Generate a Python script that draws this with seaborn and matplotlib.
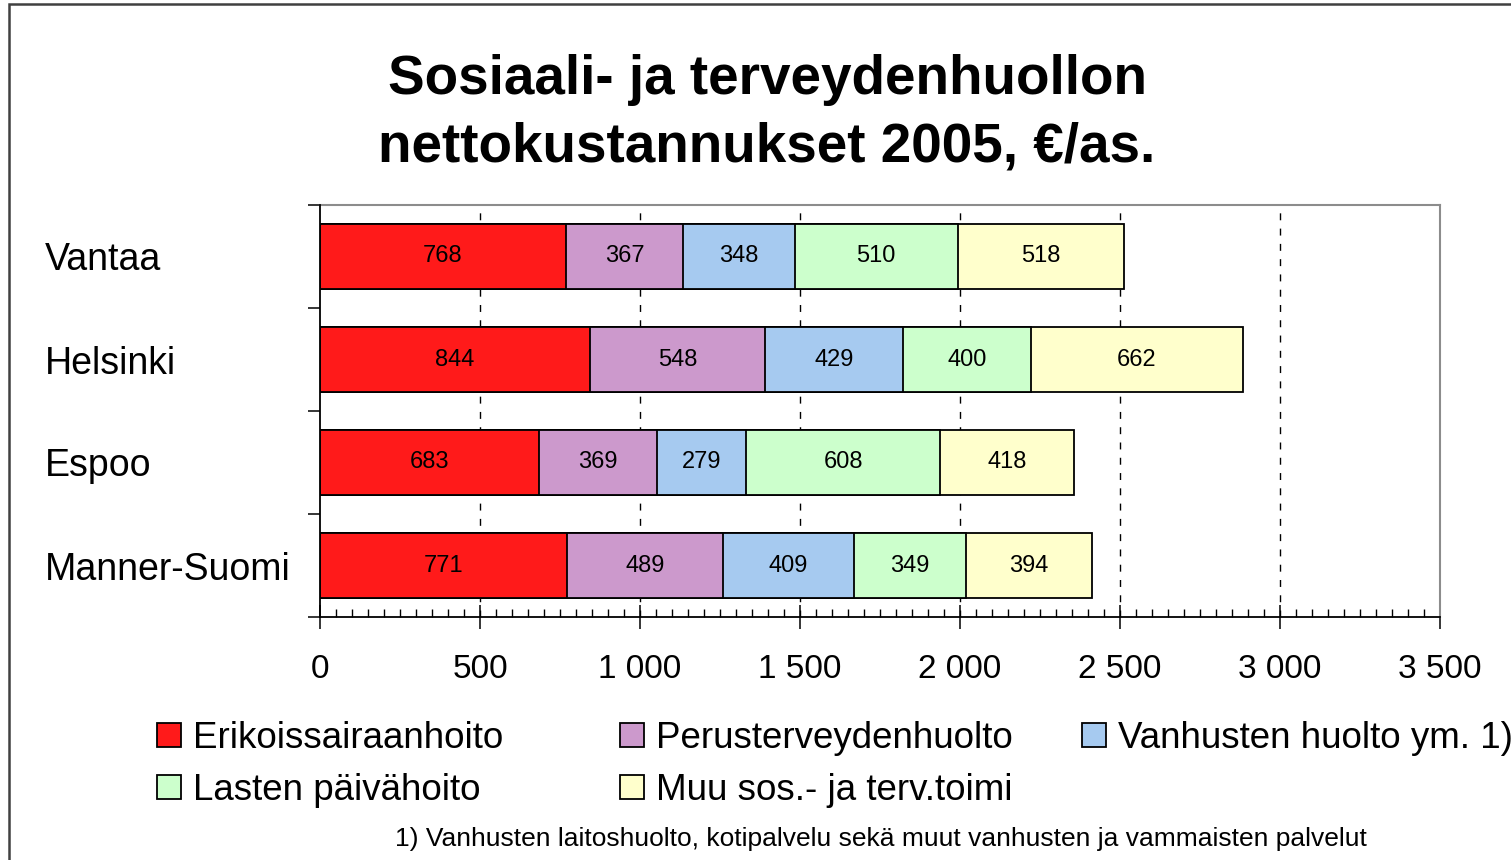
import numpy as np
import pandas as pd
import matplotlib
matplotlib.use("Agg")
import matplotlib.pyplot as plt
import seaborn as sns
from matplotlib.patches import Patch, Rectangle
from matplotlib.ticker import FixedLocator, MultipleLocator, FuncFormatter

# ---- data ----
regions = ["Vantaa", "Helsinki", "Espoo", "Manner-Suomi"]
series = ["Erikoissairaanhoito", "Perusterveydenhuolto", "Vanhusten huolto ym. 1)",
          "Lasten päivähoito", "Muu sos.- ja terv.toimi"]
erikoissairaanhoito = [768, 844, 683, 771]
perusterveydenhuolto = [367, 548, 369, 489]
vanhusten_huolto = [348, 429, 279, 409]
lasten_paivahoito = [510, 400, 608, 349]
muu_sos = [518, 662, 418, 394]
x_ticks = [0, 500, 1000, 1500, 2000, 2500, 3000, 3500]
colors = ["#FF1A1A", "#CC99CC", "#A6CAF0", "#CCFFCC", "#FFFFCC"]
title = "Sosiaali- ja terveydenhuollon\nnettokustannukset 2005, €/as."
footnote = "1) Vanhusten laitoshuolto, kotipalvelu sekä muut vanhusten ja vammaisten palvelut"

sns.set_theme(style="white")
plt.rcParams["font.family"] = ["Liberation Sans", "DejaVu Sans"]
plt.rcParams["text.color"] = "black"
plt.rcParams["axes.labelcolor"] = "black"
plt.rcParams["xtick.color"] = "black"
plt.rcParams["ytick.color"] = "black"

values = np.array([erikoissairaanhoito, perusterveydenhuolto, vanhusten_huolto,
                   lasten_paivahoito, muu_sos])
cum = values.cumsum(axis=0)

W, H = 1511, 860
fig = plt.figure(figsize=(W / 100, H / 100), dpi=100)
ax = fig.add_axes([320 / W, 1 - 617 / H, (1440 - 320) / W, (617 - 205) / H])

# stacked bars: draw cumulative totals from largest to smallest
for k in reversed(range(len(series))):
    df = pd.DataFrame({"region": regions, "value": cum[k]})
    sns.barplot(data=df, x="value", y="region", orient="h", color=colors[k],
                saturation=1, edgecolor="black", linewidth=1.3, width=0.64,
                ax=ax, zorder=3)

for k in range(len(series)):
    for i in range(len(regions)):
        ax.text(cum[k][i] - values[k][i] / 2, i, str(values[k][i]),
                ha="center", va="center", fontsize=17, color="black", zorder=5)

ax.set_xlim(x_ticks[0], x_ticks[-1])
ax.set_ylim(len(regions) - 0.5, -0.5)
ax.set_xlabel("")
ax.set_ylabel("")

# grid
for xv in x_ticks[1:-1]:
    ax.axvline(xv, color="black", lw=1.0, linestyle=(0, (5, 6)), zorder=1)

# spines
for s in ["top", "right"]:
    ax.spines[s].set_color("#8c8c8c")
    ax.spines[s].set_linewidth(1.5)
for s in ["left", "bottom"]:
    ax.spines[s].set_color("black")
    ax.spines[s].set_linewidth(1.3)
    ax.spines[s].set_zorder(4)

# x ticks
ax.xaxis.set_major_locator(FixedLocator(x_ticks))
ax.xaxis.set_major_formatter(FuncFormatter(lambda v, p: f"{int(v):,}".replace(",", " ")))
ax.xaxis.set_minor_locator(MultipleLocator(50))
ax.tick_params(axis="x", which="major", direction="inout", length=17, width=1.1,
               color="black", labelsize=24, labelcolor="black", pad=18, bottom=True)
ax.tick_params(axis="x", which="minor", direction="in", length=5.8, width=1.0,
               color="black", bottom=True)

# y ticks: labels at centres, tick marks at boundaries
ax.yaxis.set_major_locator(FixedLocator(range(len(regions))))
ax.set_yticklabels(regions)
ax.yaxis.set_minor_locator(FixedLocator(np.arange(-0.5, len(regions), 1.0)))
ax.tick_params(axis="y", which="major", length=0, labelsize=27, labelcolor="black",
               pad=198, left=True)
ax.tick_params(axis="y", which="minor", direction="out", length=8.6, width=1.1,
               color="black", left=True)
for lbl in ax.get_yticklabels():
    lbl.set_horizontalalignment("left")

# title
fig.text(767 / W, 1 - 114 / H, title, ha="center", va="center", fontsize=39.5,
         fontweight="bold", linespacing=1.4, color="black")

# legend: three columns
handles = [Patch(facecolor=c, edgecolor="black", linewidth=1.3) for c in colors]
cols = [([0, 3], 157), ([1, 4], 620), ([2], 1082)]
for idx, xpx in cols:
    leg = fig.legend([handles[j] for j in idx], [series[j] for j in idx],
                     loc="upper left", bbox_to_anchor=(xpx / W, 1 - 721 / H),
                     frameon=False, fontsize=26.5, handlelength=0.65,
                     handleheight=0.65, handletextpad=0.33, labelspacing=0.46,
                     borderpad=0, borderaxespad=0, labelcolor="black")

fig.text(881 / W, 1 - 839 / H, footnote, ha="center", va="center", fontsize=19,
         color="black")

# outer frame
fig.patches.append(Rectangle((9 / W, -0.1), 1.2, 1.1 - 4 / H, transform=fig.transFigure,
                             fill=False, edgecolor="#404040", linewidth=1.8))

fig.savefig("out.png", dpi=100)
